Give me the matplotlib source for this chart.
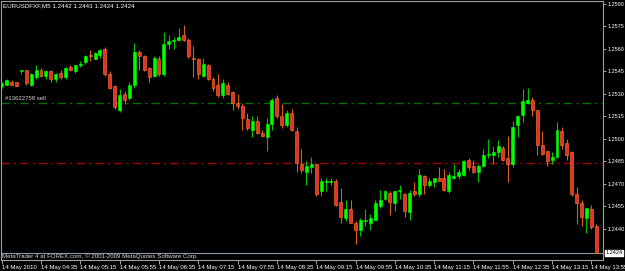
import matplotlib.pyplot as plt
import numpy as np

# EURUSD M5 candles, 14 May 2010 03:55 .. 14:00
opens = [1.2535, 1.2536, 1.2538, 1.2538, 1.2545, 1.2546, 1.2536, 1.2541, 1.2546, 1.2542,
         1.2545, 1.2540, 1.2544, 1.2541, 1.2548, 1.2545, 1.2549, 1.2551, 1.2556, 1.2553,
         1.2556, 1.2560, 1.2543, 1.2535, 1.2519, 1.2530, 1.2527, 1.2536, 1.2558, 1.2555,
         1.2547, 1.2542, 1.2553, 1.2543, 1.2563, 1.2565, 1.2566, 1.2569, 1.2566, 1.2554,
         1.2553, 1.2542, 1.2549, 1.2540, 1.2536, 1.2529, 1.2536, 1.2531, 1.2524, 1.2522,
         1.2513, 1.2506, 1.2512, 1.2504, 1.2501, 1.2510, 1.2527, 1.2515, 1.2509, 1.2517,
         1.2505, 1.2483, 1.2478, 1.2481, 1.2483, 1.2465, 1.2471, 1.2471, 1.2472, 1.2458,
         1.2447, 1.2453, 1.2444, 1.2439, 1.2445, 1.2444, 1.2446, 1.2455, 1.2460, 1.2464,
         1.2457, 1.2465, 1.2463, 1.2451, 1.2465, 1.2463, 1.2475, 1.2469, 1.2471, 1.2474,
         1.2474, 1.2465, 1.2474, 1.2475, 1.2476, 1.2486, 1.2482, 1.2478, 1.2482, 1.2489,
         1.2489, 1.2491, 1.2494, 1.2487, 1.2483, 1.2509, 1.2516, 1.2524, 1.2526, 1.2519,
         1.2496, 1.2492, 1.2486, 1.2488, 1.2505, 1.2497, 1.2491, 1.2463, 1.2457, 1.2447,
         1.2453, 1.2442]
highs = [1.2538, 1.2540, 1.2539, 1.2538, 1.2546, 1.2546, 1.2544, 1.2549, 1.2547, 1.2546,
         1.2546, 1.2544, 1.2546, 1.2548, 1.2549, 1.2549, 1.2552, 1.2556, 1.2559, 1.2558,
         1.2560, 1.2561, 1.2545, 1.2536, 1.2533, 1.2532, 1.2538, 1.2564, 1.2559, 1.2556,
         1.2548, 1.2555, 1.2555, 1.2571, 1.2569, 1.2568, 1.2574, 1.2576, 1.2567, 1.2562,
         1.2554, 1.2554, 1.2550, 1.2541, 1.2543, 1.2540, 1.2538, 1.2532, 1.2530, 1.2524,
         1.2517, 1.2515, 1.2515, 1.2506, 1.2514, 1.2527, 1.2529, 1.2523, 1.2519, 1.2520,
         1.2508, 1.2493, 1.2485, 1.2488, 1.2483, 1.2474, 1.2474, 1.2474, 1.2473, 1.2467,
         1.2459, 1.2459, 1.2445, 1.2447, 1.2453, 1.2450, 1.2459, 1.2466, 1.2466, 1.2465,
         1.2466, 1.2469, 1.2464, 1.2466, 1.2471, 1.2480, 1.2476, 1.2474, 1.2474, 1.2481,
         1.2480, 1.2478, 1.2483, 1.2480, 1.2486, 1.2487, 1.2486, 1.2483, 1.2493, 1.2500,
         1.2495, 1.2499, 1.2495, 1.2502, 1.2512, 1.2516, 1.2533, 1.2534, 1.2528, 1.2519,
         1.2505, 1.2492, 1.2491, 1.2511, 1.2508, 1.2500, 1.2492, 1.2468, 1.2459, 1.2454,
         1.2456, 1.2443]
lows = [1.2534, 1.2536, 1.2536, 1.2535, 1.2543, 1.2536, 1.2535, 1.2540, 1.2541, 1.2540,
        1.2538, 1.2538, 1.2540, 1.2540, 1.2545, 1.2544, 1.2548, 1.2550, 1.2552, 1.2553,
        1.2554, 1.2542, 1.2533, 1.2520, 1.2518, 1.2523, 1.2526, 1.2534, 1.2546, 1.2545,
        1.2538, 1.2541, 1.2542, 1.2542, 1.2560, 1.2560, 1.2565, 1.2565, 1.2554, 1.2541,
        1.2540, 1.2541, 1.2539, 1.2532, 1.2528, 1.2527, 1.2529, 1.2519, 1.2520, 1.2506,
        1.2506, 1.2501, 1.2503, 1.2501, 1.2492, 1.2506, 1.2514, 1.2507, 1.2508, 1.2505,
        1.2478, 1.2477, 1.2469, 1.2477, 1.2462, 1.2462, 1.2465, 1.2469, 1.2455, 1.2444,
        1.2445, 1.2444, 1.2430, 1.2435, 1.2442, 1.2439, 1.2446, 1.2454, 1.2459, 1.2449,
        1.2452, 1.2460, 1.2448, 1.2446, 1.2462, 1.2461, 1.2463, 1.2468, 1.2468, 1.2472,
        1.2465, 1.2464, 1.2473, 1.2473, 1.2475, 1.2479, 1.2477, 1.2471, 1.2481, 1.2487,
        1.2483, 1.2488, 1.2485, 1.2471, 1.2481, 1.2501, 1.2511, 1.2523, 1.2515, 1.2489,
        1.2489, 1.2482, 1.2483, 1.2487, 1.2493, 1.2486, 1.2462, 1.2443, 1.2442, 1.2437,
        1.2440, 1.2424]
closes = [1.2537, 1.2539, 1.2536, 1.2535, 1.2546, 1.2537, 1.2543, 1.2546, 1.2542, 1.2545,
          1.2540, 1.2543, 1.2541, 1.2547, 1.2546, 1.2549, 1.2550, 1.2555, 1.2555, 1.2557,
          1.2559, 1.2543, 1.2534, 1.2521, 1.2529, 1.2526, 1.2536, 1.2558, 1.2555, 1.2546,
          1.2541, 1.2554, 1.2543, 1.2563, 1.2565, 1.2566, 1.2568, 1.2566, 1.2555, 1.2553,
          1.2543, 1.2550, 1.2540, 1.2534, 1.2529, 1.2537, 1.2530, 1.2524, 1.2522, 1.2514,
          1.2507, 1.2512, 1.2504, 1.2502, 1.2510, 1.2526, 1.2515, 1.2509, 1.2517, 1.2506,
          1.2484, 1.2479, 1.2482, 1.2483, 1.2463, 1.2472, 1.2472, 1.2472, 1.2456, 1.2448,
          1.2453, 1.2444, 1.2439, 1.2446, 1.2446, 1.2447, 1.2457, 1.2459, 1.2465, 1.2458,
          1.2465, 1.2466, 1.2452, 1.2464, 1.2463, 1.2476, 1.2469, 1.2472, 1.2474, 1.2472,
          1.2466, 1.2476, 1.2475, 1.2478, 1.2485, 1.2481, 1.2478, 1.2482, 1.2489, 1.2490,
          1.2491, 1.2495, 1.2486, 1.2483, 1.2508, 1.2515, 1.2525, 1.2526, 1.2519, 1.2496,
          1.2490, 1.2485, 1.2488, 1.2506, 1.2496, 1.2489, 1.2463, 1.2457, 1.2448, 1.2454,
          1.2441, 1.2424]

time_ticks = [0, 8, 16, 24, 32, 40, 48, 56, 64, 72, 80, 88, 96, 104, 112, 120]
time_labels = ['14 May 2010', '14 May 04:35', '14 May 05:15', '14 May 05:55',
               '14 May 06:35', '14 May 07:15', '14 May 07:55', '14 May 08:35',
               '14 May 09:15', '14 May 09:55', '14 May 10:35', '14 May 11:15',
               '14 May 11:55', '14 May 12:35', '14 May 13:15', '14 May 13:55']
price_ticks = [1.2440, 1.2455, 1.2470, 1.2485, 1.2500, 1.2515, 1.2530,
               1.2545, 1.2560, 1.2575, 1.2590]

order_price = 1.2524
order_label = '#13622758 sell'
alert_price = 1.2484
bid_price = 1.2424
title = 'EURUSDFXF,M5 1.2442 1.2443 1.2424 1.2424'
copyright_text = 'MetaTrader 4 at FOREX.com, \u00a9 2001-2009 MetaQuotes Software Corp.'

plt.rcParams['font.family'] = ['Liberation Sans', 'DejaVu Sans']
fs = 4.3

fig = plt.figure(figsize=(6.25, 2.71), dpi=100, facecolor='black')
ax = fig.add_axes([1 / 625, 11 / 271, 602 / 625, 259 / 271])
ax.set_facecolor('black')

o = np.array(opens)
h = np.array(highs)
l = np.array(lows)
c = np.array(closes)
idx = np.arange(len(o))
up = c >= o

# wicks
ax.vlines(idx[up], l[up], h[up], color='#00c000', lw=0.8, zorder=2)
ax.vlines(idx[~up], l[~up], h[~up], color='#d8601c', lw=0.8, zorder=2)

# bodies
body_bottom = np.minimum(o, c)
body_height = np.maximum(np.abs(c - o), 0.00002)
ax.bar(idx[up], body_height[up], bottom=body_bottom[up], width=0.6,
       color='#00ff00', edgecolor='#00ff00', lw=0.4, zorder=3)
ax.bar(idx[~up], body_height[~up], bottom=body_bottom[~up], width=0.6,
       color='#e8302a', edgecolor='#ff7a22', lw=0.4, zorder=3)

# levels
ax.axhline(order_price, color='#007000', lw=1.0, ls=(0, (6, 3, 1.5, 3)), zorder=1)
ax.axhline(alert_price, color='#a00000', lw=1.0, ls=(0, (6, 3, 1.5, 3)), zorder=1)
ax.axhline(bid_price, color='#8a96a4', lw=0.8, zorder=1)
ax.text(0.006, order_price + 0.00012, order_label, transform=ax.get_yaxis_transform(),
        color='#d0d0d0', fontsize=fs, ha='left', va='bottom')

ax.set_xlim(-0.14, 122.36)
ax.set_ylim(1.24193, 1.25920)

for s in ax.spines.values():
    s.set_color('#a0a0a0')
    s.set_linewidth(0.8)

ax.yaxis.tick_right()
ax.set_yticks(price_ticks)
ax.set_yticklabels(['%.4f' % p for p in price_ticks])
ax.tick_params(axis='y', colors='#a0a0a0', labelcolor='white', labelsize=4.0,
               length=2.5, width=0.7, pad=1.0)

ax.set_xticks(time_ticks)
ax.set_xticklabels(time_labels, ha='left')
ax.tick_params(axis='x', colors='#a0a0a0', labelcolor='white', labelsize=fs,
               length=3, width=0.7, pad=0.8)

ax.text(0.003, 0.992, title, transform=ax.transAxes, color='white', fontsize=4.5,
        ha='left', va='top')
ax.text(0.002, 0.004, copyright_text, transform=ax.transAxes, color='#d8d8d8',
        fontsize=4.4, ha='left', va='bottom')
ax.text(1.004, bid_price, '%.4f' % bid_price, transform=ax.get_yaxis_transform(),
        color='black', fontsize=4.0, ha='left', va='center',
        bbox=dict(boxstyle='square,pad=0.12', fc='white', ec='white'))

fig.savefig('out.png', dpi=100, facecolor='black')
